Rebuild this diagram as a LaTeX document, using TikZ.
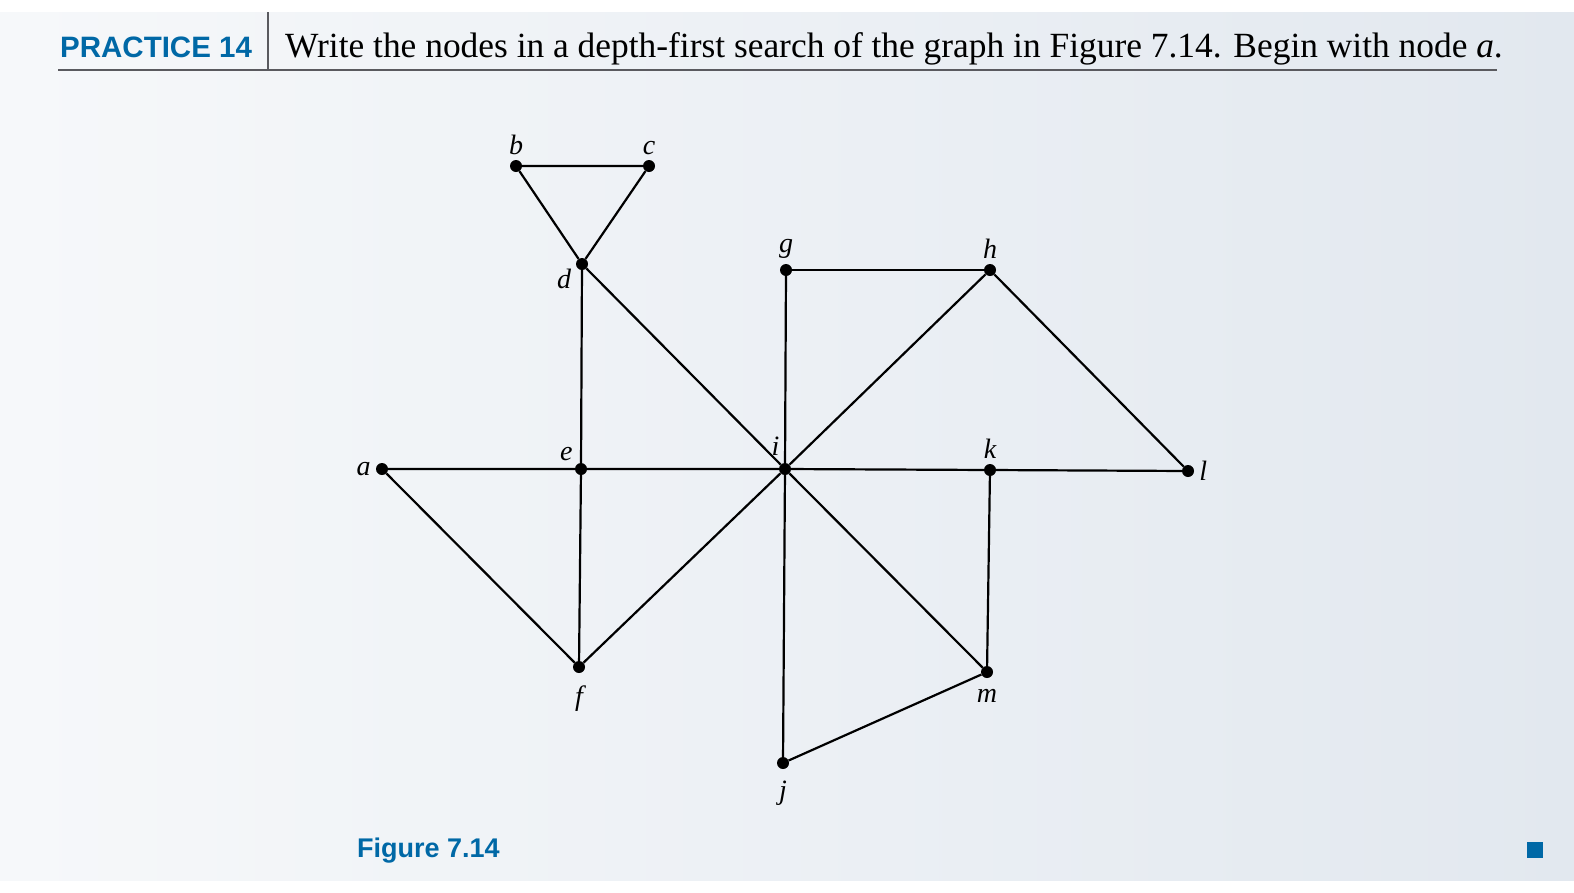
\documentclass[tikz,border=0pt]{standalone}
\usepackage{fontspec}
\setmainfont{Liberation Serif}
\newfontfamily\headfont{Liberation Sans}
\usetikzlibrary{positioning}
\definecolor{practiceblue}{RGB}{0,104,166}
\definecolor{panelgrey}{RGB}{226,232,239}
\definecolor{rulegrey}{RGB}{90,90,95}

\begin{document}
\begin{tikzpicture}[x=1pt, y=-1pt,
    vertex/.style={circle, fill=black, inner sep=0pt, minimum size=12pt},
    edge/.style={line width=2.2pt},
    every label/.style={font=\fontsize{28}{28}\selectfont\itshape, inner sep=1pt},
    label distance=4pt
]

    % Background
    \useasboundingbox (0,0) rectangle (1574,892);
    \fill[white] (0,0) rectangle (1574,892);
    \shade[left color=white!70!panelgrey, right color=panelgrey] (0,12) rectangle (1574,880);

    % Heading
    \node[anchor=base west, inner sep=0pt, text=practiceblue,
          font=\headfont\bfseries\fontsize{29.5}{30}\selectfont] (practice) at (60,57) {PRACTICE 14};
    \node[anchor=base west, inner sep=0pt,
          font=\fontsize{35.4}{36}\selectfont] (task) at (285,57)
        {Write the nodes in a depth-first search of the graph in Figure 7.14. Begin with node \textit{a}.};
    \draw[line width=1.5pt, rulegrey] (268,12) -- (268,70);
    \draw[line width=2pt, rulegrey] (58,70) -- (1497,70);

    % Vertices
    \node[vertex, label=above:b] (b) at (516,166) {};
    \node[vertex, label=above:c] (c) at (649,166) {};
    \node[vertex, label={200:d}] (d) at (582,264) {};
    \node[vertex, label=above:g] (g) at (786,270) {};
    \node[vertex, label=above:h] (h) at (990,270) {};
    \node[vertex, label=left:a] (a) at (382,469) {};
    \node[vertex, label={135:e}] (e) at (581,469) {};
    \node[vertex, label={[label distance=7pt]110:i}] (i) at (785,469) {};
    \node[vertex, label=above:k] (k) at (990,470) {};
    \node[vertex, label=right:l] (l) at (1188,471) {};
    \node[vertex, label={[label distance=11pt]below:f}] (f) at (579,667) {};
    \node[vertex, label={[label distance=10pt]below:m}] (m) at (987,672) {};
    \node[vertex, label={[label distance=11pt]below:j}] (j) at (783,763) {};

    % Edges
    \draw[edge] (b) -- (c) -- (d) -- (b);
    \draw[edge] (d) -- (e);
    \draw[edge] (d) -- (i);
    \draw[edge] (a) -- (e) -- (i) -- (k) -- (l);
    \draw[edge] (a) -- (f) -- (e);
    \draw[edge] (f) -- (i);
    \draw[edge] (g) -- (h);
    \draw[edge] (g) -- (i) -- (j);
    \draw[edge] (h) -- (i);
    \draw[edge] (h) -- (l);
    \draw[edge] (i) -- (m) -- (k);
    \draw[edge] (m) -- (j);

    % Caption
    \node[anchor=base west, inner sep=0pt, text=practiceblue,
          font=\headfont\bfseries\fontsize{27}{27}\selectfont] (caption) at (357,857) {Figure 7.14};
    \fill[practiceblue] (1527,842) rectangle (1543,858);

\end{tikzpicture}
\end{document}
